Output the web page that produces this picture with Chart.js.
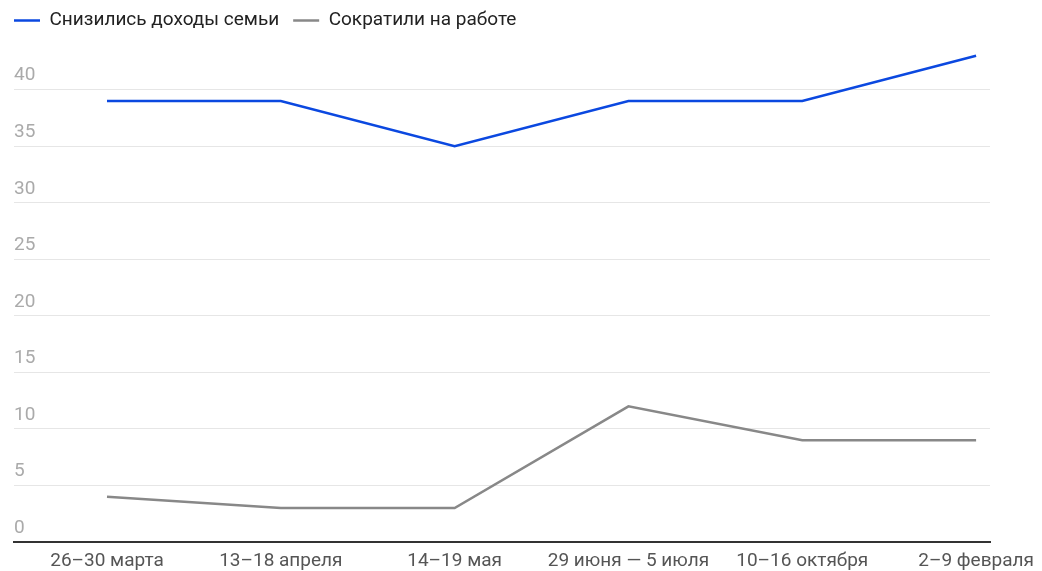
<!DOCTYPE html>
<html><head><meta charset="utf-8">
<script src="https://cdn.jsdelivr.net/npm/chart.js@4/dist/chart.umd.min.js"></script>
<style>html,body{margin:0;padding:0;background:#fff}#wrap{width:1042px;height:571px}</style>
</head><body><div id="wrap"><canvas id="c"></canvas></div>
<script>
const categories = ['26–30 марта','13–18 апреля','14–19 мая','29 июня — 5 июля','10–16 октября','2–9 февраля'];
const incomeDown = [39,39,35,39,39,43];
const cutAtWork = [4,3,3,12,9,9];
const yTicks = [0,5,10,15,20,25,30,35,40];
const seriesNames = ['Снизились доходы семьи','Сократили на работе'];

const FONT = 'Roboto, "Liberation Sans", sans-serif';
new Chart(document.getElementById('c'), {
  type: 'line',
  data: {
    datasets: [
      {label: seriesNames[0], data: incomeDown.map((v,i)=>({x:i,y:v})), borderColor:'#0b48e0', backgroundColor:'#0b48e0', borderWidth:2.5, pointRadius:0, tension:0},
      {label: seriesNames[1], data: cutAtWork.map((v,i)=>({x:i,y:v})), borderColor:'#888888', backgroundColor:'#888888', borderWidth:2.5, pointRadius:0, tension:0}
    ]
  },
  options: {
    responsive:true, maintainAspectRatio:false, animation:false,
    layout:{padding:{left:0,right:0,top:-3,bottom:0}},
    plugins:{
      tooltip:{enabled:false},
      legend:{position:'top', align:'start',
        labels:{usePointStyle:true, pointStyle:'line', pointStyleWidth:26, padding:14, color:'#222', font:{family:FONT,size:19}}}
    },
    scales:{
      x:{type:'linear', min:-0.535, max:5.08,
        afterBuildTicks:s=>{s.ticks = categories.map((c,i)=>({value:i}));},
        afterFit:s=>{s.height=29; s.paddingLeft=0; s.paddingRight=52;},
        ticks:{callback:(v)=>categories[v], color:'#555', font:{family:FONT,size:19}, padding:8, maxRotation:0, autoSkip:false},
        grid:{display:false, drawTicks:false},
        border:{display:true, color:'#333', width:2}
      },
      y:{min:0, max:44.4,
        afterBuildTicks:s=>{s.ticks = yTicks.map(v=>({value:v}));},
        afterFit:s=>{s.width=14; s.paddingTop=0; s.paddingBottom=0;},
        ticks:{mirror:true, padding:0, labelOffset:-14, color:'#aaa', font:{family:FONT,size:19}},
        grid:{color:'#e6e6e6', lineWidth:1, drawTicks:false},
        border:{display:false}
      }
    }
  }
});
</script></body></html>
